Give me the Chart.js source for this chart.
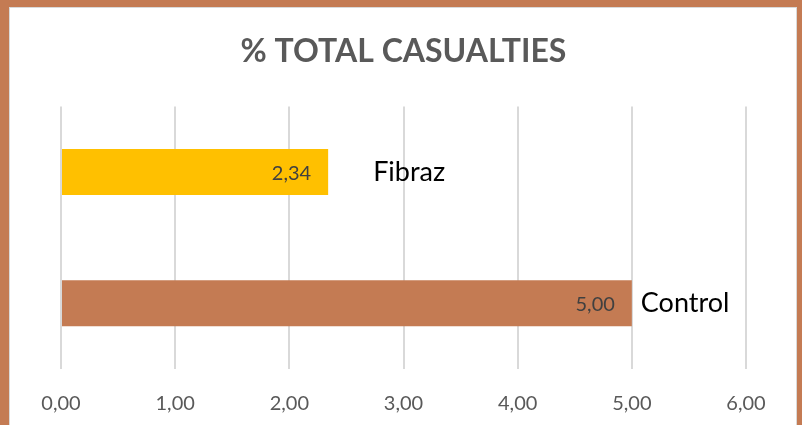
<!DOCTYPE html>
<html>
<head>
<meta charset="utf-8">
<script src="https://cdn.jsdelivr.net/npm/chart.js@4"></script>
<style>
  html, body { margin: 0; padding: 0; background: #C47B53; }
  #frame {
    position: absolute; left: 9px; top: 7px; width: 786px; height: 418px;
    background: #fff; border-left: 1px solid #d9d9d9; border-top: 1px solid #d9d9d9; border-right: 1px solid #d9d9d9;
  }
  canvas { position: absolute; left: 0; top: 0; }
</style>
</head>
<body>
<div id="frame"></div>
<canvas id="chart" width="802" height="425"></canvas>
<script>
// values
const categories = ['Fibraz', 'Control'];
const casualties = [2.34, 5.00];
const barColors = ['#FFC000', '#C47B53'];
const xMin = 0;
const xMax = 6;

const fmt = v => v.toFixed(2).replace('.', ',');

// draws the value inside the bar end and the category name after it
const labelPlugin = {
  id: 'barLabels',
  afterDatasetsDraw(chart) {
    const ctx = chart.ctx;
    const meta = chart.getDatasetMeta(0);
    const gaps = [45, 9];
    ctx.save();
    ctx.textBaseline = 'middle';
    meta.data.forEach((bar, i) => {
      ctx.font = '20px Lato, "Open Sans", sans-serif';
      ctx.fillStyle = '#404040';
      ctx.textAlign = 'right';
      ctx.fillText(fmt(casualties[i]), bar.x - 17, bar.y + 1);
      ctx.font = '27px Lato, "Open Sans", sans-serif';
      ctx.fillStyle = '#000';
      ctx.textAlign = 'left';
      ctx.fillText(categories[i], bar.x + gaps[i], bar.y);
    });
    ctx.restore();
  }
};

new Chart(document.getElementById('chart'), {
  type: 'bar',
  data: {
    labels: categories,
    datasets: [{
      data: casualties,
      backgroundColor: barColors,
      categoryPercentage: 1,
      barPercentage: 0.35
    }]
  },
  options: {
    indexAxis: 'y',
    responsive: false,
    animation: false,
    layout: { padding: { left: 61, right: 56, top: 0, bottom: 0 } },
    plugins: {
      legend: { display: false },
      tooltip: { enabled: false },
      title: {
        display: true,
        text: '% TOTAL CASUALTIES',
        color: '#595959',
        font: { family: 'Lato, "Open Sans", sans-serif', size: 32, weight: 'bold' },
        padding: { top: 32, bottom: 36 }
      }
    },
    scales: {
      x: {
        min: xMin,
        max: xMax,
        grid: { color: '#d9d9d9', lineWidth: 2, drawTicks: false },
        border: { display: false },
        afterFit: scale => { scale.height = 56; },
        ticks: {
          stepSize: 1,
          padding: 23,
          color: '#595959',
          font: { family: 'Lato, "Open Sans", sans-serif', size: 20 },
          callback: v => fmt(v)
        }
      },
      y: { display: false }
    }
  },
  plugins: [labelPlugin]
});
</script>
</body>
</html>
